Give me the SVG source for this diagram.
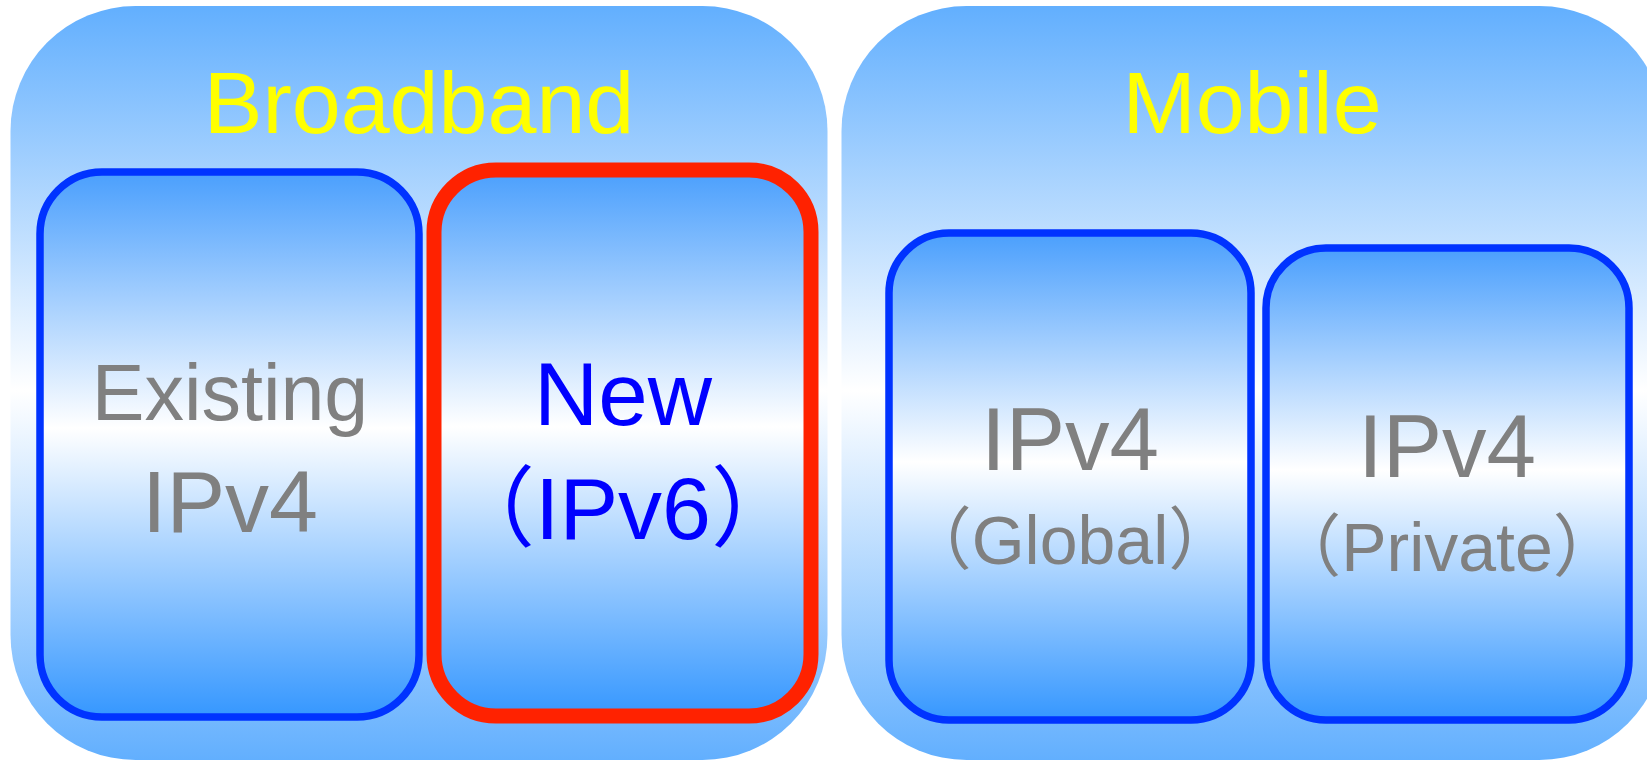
<svg xmlns="http://www.w3.org/2000/svg" width="1647" height="761" viewBox="0 0 1647 761">
  <defs>
    <linearGradient id="outerGrad" x1="0" y1="0" x2="0" y2="1">
      <stop offset="0" stop-color="#62affe"/>
      <stop offset="0.51" stop-color="#ffffff"/>
      <stop offset="1" stop-color="#62affe"/>
    </linearGradient>
    <linearGradient id="innerGrad" x1="0" y1="0" x2="0" y2="1">
      <stop offset="0" stop-color="#4a9ffd"/>
      <stop offset="0.47" stop-color="#ffffff"/>
      <stop offset="1" stop-color="#3597ff"/>
    </linearGradient>
  </defs>
  <style>
    .outer { fill: url(#outerGrad); stroke: none; }
    .inner { fill: url(#innerGrad); stroke: #0033ff; stroke-width: 7.5; }
    .innerRed { fill: url(#innerGrad); stroke: #ff2200; stroke-width: 15; }
    text { font-family: "Liberation Sans", Arial, "Noto Sans CJK JP", sans-serif; text-anchor: middle; }
    .title { fill: #ffff00; font-size: 88px; }
    .grey { fill: #808080; }
    .blue { fill: #0000ff; }
  </style>

  <g id="broadband">
    <rect class="outer" x="10.5" y="6" width="817" height="754" rx="125" ry="125"/>
    <text class="title" x="419" y="133">Broadband</text>
  </g>

  <g id="mobile">
    <rect class="outer" x="841.5" y="6" width="823" height="754" rx="125" ry="125"/>
    <text class="title" x="1252" y="133">Mobile</text>
  </g>

  <g id="existing-ipv4">
    <rect class="inner" x="40" y="172" width="379" height="545" rx="62" ry="62"/>
    <text class="grey" x="230" y="420" font-size="79">Existing</text>
    <text class="grey" x="230" y="532" font-size="88">IPv4</text>
  </g>

  <g id="new-ipv6">
    <rect class="innerRed" x="434" y="170" width="377" height="546" rx="62" ry="62"/>
    <text class="blue" x="623" y="425" font-size="89">New</text>
    <text class="blue" x="623" y="539" font-size="88">（IPv6）</text>
  </g>

  <g id="ipv4-global">
    <rect class="inner" x="889" y="233" width="362" height="487" rx="60" ry="60"/>
    <text class="grey" x="1070" y="470" font-size="89">IPv4</text>
    <text class="grey" x="1070" y="564" font-size="68">（Global）</text>
  </g>

  <g id="ipv4-private">
    <rect class="inner" x="1266" y="248" width="363" height="472" rx="60" ry="60"/>
    <text class="grey" x="1447" y="477" font-size="89">IPv4</text>
    <text class="grey" x="1447" y="571" font-size="68">（Private）</text>
  </g>

  <g id="connectors"/>
</svg>
